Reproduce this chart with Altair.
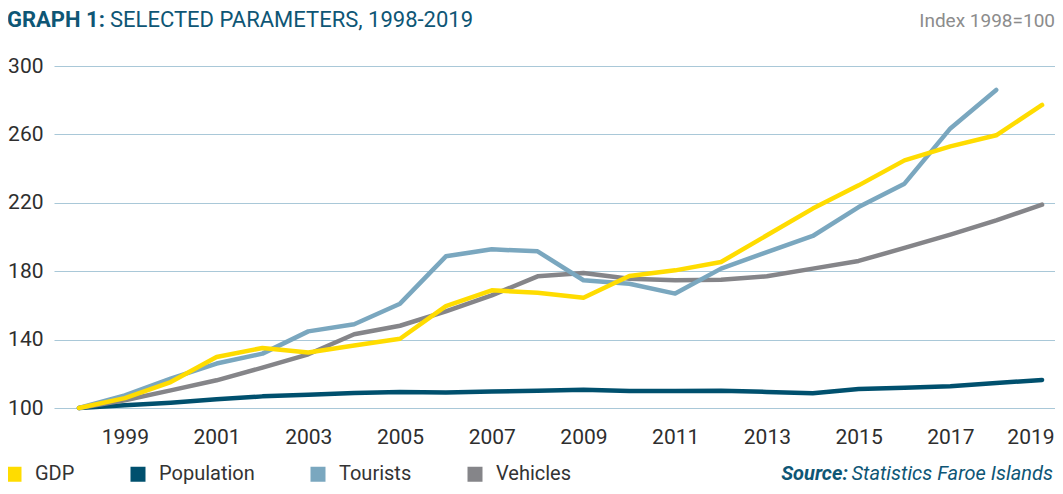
import altair as alt
import pandas as pd

years = list(range(1998, 2020))
series_names = ["GDP", "Population", "Tourists", "Vehicles"]
series_colors = ["#FFDC00", "#00506E", "#7AA7BF", "#858589"]

gdp = [100, 105.8, 115.2, 129.8, 135.1, 132.4, 136.6, 140.5, 159.6, 168.8, 167.4,
       164.5, 177.2, 180.5, 185.4, 201.0, 216.6, 230.2, 244.8, 253.0, 259.5, 277.2]
population = [100, 101.6, 103.1, 105.1, 106.8, 107.8, 108.8, 109.4, 109.0, 109.6, 110.1,
              110.7, 110.0, 110.0, 110.1, 109.4, 108.6, 111.1, 111.9, 112.7, 114.6, 116.4]
tourists = [100, 107.4, 117.2, 126.0, 131.8, 144.8, 149.0, 161.0, 188.7, 192.8, 191.6,
            174.7, 172.7, 166.9, 181.5, 191.2, 200.6, 217.5, 231.2, 263.5, 286.0, None]
vehicles = [100, 104.5, 110.3, 116.2, 123.6, 131.4, 143.1, 148.1, 156.5, 165.9, 177.0,
            179.0, 175.6, 174.7, 175.0, 177.0, 181.5, 186.0, 193.6, 201.4, 209.7, 218.9]

y_ticks = [100, 140, 180, 220, 260, 300]
x_ticks = [1999, 2001, 2003, 2005, 2007, 2009, 2011, 2013, 2015, 2017, 2019]

title_bold = "GRAPH 1:"
title_rest = "SELECTED PARAMETERS, 1998-2019"
index_note = "Index 1998=100"
source_bold = "Source:"
source_rest = "Statistics Faroe Islands"

rows = []
for name, vals in zip(series_names, [gdp, population, tourists, vehicles]):
    for yr, v in zip(years, vals):
        if v is not None:
            rows.append({"year": yr, "value": v, "series": name})
df = pd.DataFrame(rows)

FONT = "Roboto"
TEAL = "#0E5675"

x_enc = alt.X("year:Q",
              scale=alt.Scale(domain=[1997.455, 2019.282], nice=False, zero=False),
              axis=alt.Axis(values=x_ticks, format="d", title=None, grid=False,
                            domain=False, ticks=False, labelFontSize=21,
                            labelPadding=18, labelColor="#2E2E2E", labelFont=FONT,
                            labelFlush=20, labelFlushOffset=12,
                            labelOverlap=False))
y_enc = alt.Y("value:Q",
              scale=alt.Scale(domain=[100, 300], nice=False, zero=False),
              axis=alt.Axis(values=y_ticks, title=None, domain=False, ticks=False,
                            labelFontSize=21, labelPadding=11, labelColor="#2E2E2E",
                            labelFont=FONT, grid=True, gridColor="#A9C8D8",
                            gridWidth=1.2))
color_enc = alt.Color("series:N",
                      scale=alt.Scale(domain=series_names, range=series_colors),
                      legend=alt.Legend(orient="none", legendX=-50, legendY=398,
                                        direction="horizontal", title=None,
                                        symbolType="square", symbolSize=1,
                                        symbolStrokeWidth=14, symbolOpacity=1,
                                        labelFontSize=20, labelFont=FONT,
                                        labelColor="#333333", columnPadding=34,
                                        labelOffset=11))

draw_order = ["Population", "Vehicles", "Tourists", "GDP"]
line_layers = []
for name in draw_order:
    line_layers.append(
        alt.Chart(df).transform_filter(alt.datum.series == name)
        .mark_line(strokeWidth=4.5, strokeCap="round", strokeJoin="round")
        .encode(x=x_enc, y=y_enc, color=color_enc)
    )


def text_layer(txt, x, y, size, color, weight="normal", style="normal", align="left"):
    return alt.Chart(pd.DataFrame({"t": [txt]})).mark_text(
        align=align, baseline="alphabetic", fontSize=size, font=FONT,
        fontWeight=weight, fontStyle=style, color=color
    ).encode(x=alt.value(x), y=alt.value(y), text="t:N")


texts = [
    text_layer(title_bold, -47, -39, 22, TEAL, weight="bold"),
    text_layer(title_rest, 56, -39, 22, TEAL),
    text_layer(index_note, 1001, -39, 19, "#8C8C8C", align="right"),
    text_layer(source_bold, 794, 414, 20, TEAL, weight="bold", style="italic", align="right"),
    text_layer(source_rest, 999, 414, 20, TEAL, style="italic", align="right"),
]

chart = alt.layer(*line_layers, *texts).properties(
    width=1001, height=342,
    autosize=alt.AutoSizeParams(type="none"),
    padding={"left": 46, "top": 58, "right": 0, "bottom": 78},
).configure_view(strokeWidth=0)

chart.save("out.html", embed_options={"renderer": "svg", "actions": False})
